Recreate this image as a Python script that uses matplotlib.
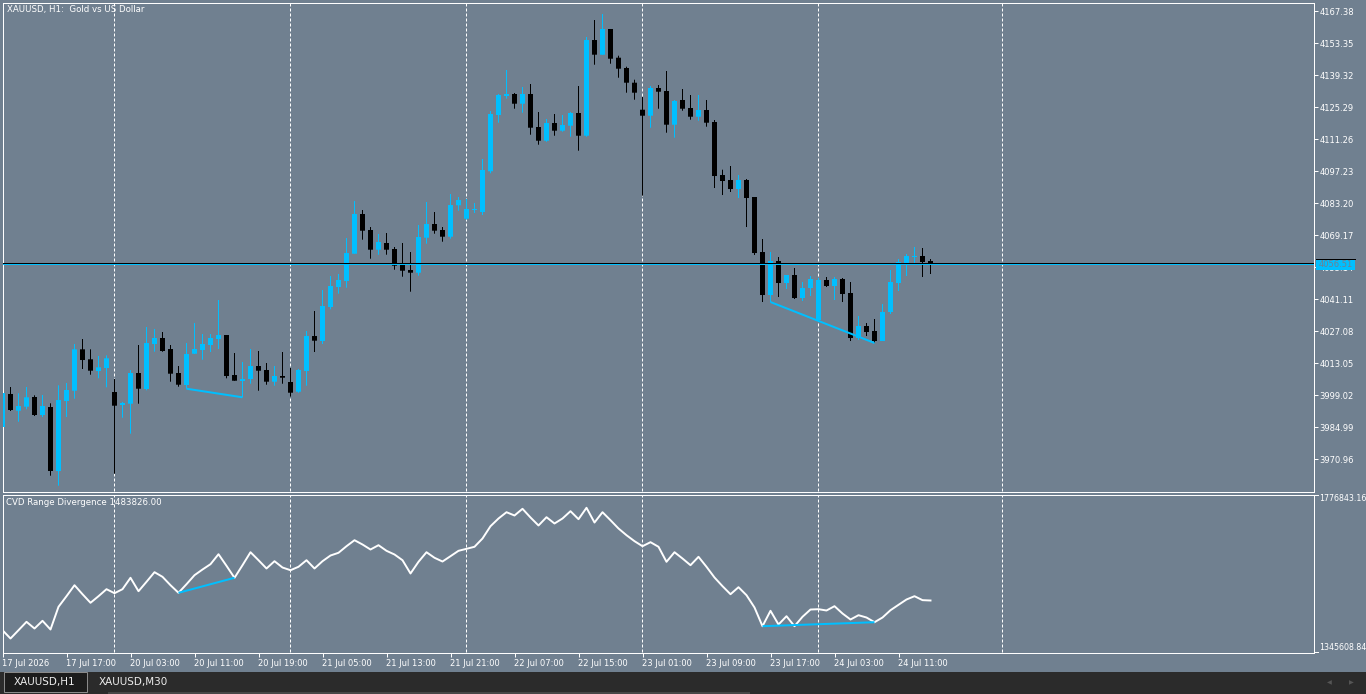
import matplotlib
matplotlib.use('Agg')
import matplotlib.pyplot as plt
from matplotlib.patches import Rectangle
from matplotlib.lines import Line2D
import numpy as np

plt.rcParams['font.family'] = ['DejaVu Sans']

# ---------------- data ----------------
title = 'XAUUSD, H1:  Gold vs US Dollar'
indicator_name = 'CVD Range Divergence'

opens = [3984.99, 3999.46, 3992.13, 3993.89, 3998.14, 3990.25, 3993.75, 3965.70, 3996.39, 4000.90,
         4019.05, 4014.67, 4009.54, 4010.85, 4000.33, 3994.63, 3995.20, 4008.66, 4001.65, 4021.38,
         4024.01, 4019.18, 4008.66, 4003.40, 4017.12, 4018.75, 4020.94, 4023.57, 4025.32, 4007.78,
         4005.15, 4006.03, 4011.73, 4009.98, 4004.85, 4007.35, 4004.72, 4000.46, 4009.54, 4024.88,
         4022.69, 4037.60, 4046.37, 4049.00, 4060.97, 4078.37, 4071.36, 4062.72, 4065.66, 4063.03,
         4056.01, 4053.82, 4052.64, 4067.98, 4073.99, 4071.36, 4068.42, 4082.19, 4076.31, 4080.13,
         4079.25, 4097.10, 4121.78, 4130.11, 4130.99, 4126.73, 4130.99, 4116.52, 4110.51, 4118.27,
         4114.90, 4117.09, 4122.66, 4112.70, 4154.66, 4148.22, 4159.49, 4146.90, 4142.39, 4135.94,
         4124.10, 4121.47, 4133.62, 4132.30, 4117.53, 4128.36, 4124.85, 4121.03, 4123.97, 4118.71,
         4095.47, 4093.28, 4089.33, 4093.28, 4085.83, 4061.71, 4042.86, 4057.77, 4048.12, 4051.63,
         4041.54, 4045.93, 4031.90, 4049.44, 4046.81, 4049.88, 4043.74, 4024.01, 4029.27, 4027.08,
         4022.69, 4035.41, 4048.12, 4056.89, 4059.52, 4059.96, 4057.77]
highs = [4002.09, 4002.52, 3999.76, 4002.52, 3998.88, 3999.02, 3995.38, 4003.27, 4004.28, 4021.38,
         4023.57, 4019.05, 4016.12, 4016.42, 4006.03, 3995.95, 4009.98, 4020.94, 4028.83, 4027.95,
         4026.64, 4020.94, 4011.73, 4021.81, 4030.58, 4025.76, 4025.76, 4040.67, 4025.32, 4017.43,
         4013.48, 4019.18, 4018.31, 4013.05, 4011.73, 4017.87, 4010.85, 4010.42, 4027.08, 4035.85,
         4045.05, 4051.19, 4052.07, 4067.85, 4084.07, 4080.13, 4072.67, 4069.61, 4070.04, 4063.91,
         4065.66, 4061.71, 4073.55, 4083.64, 4079.25, 4072.67, 4087.14, 4085.83, 4084.95, 4083.20,
         4102.49, 4123.53, 4130.99, 4141.51, 4131.42, 4134.06, 4135.37, 4123.09, 4120.03, 4122.22,
         4121.78, 4123.09, 4134.49, 4155.98, 4163.43, 4166.06, 4159.49, 4147.78, 4142.96, 4137.26,
         4129.67, 4134.49, 4134.93, 4141.07, 4128.36, 4133.18, 4130.55, 4130.55, 4128.36, 4119.59,
         4097.80, 4099.42, 4095.47, 4093.72, 4085.83, 4067.41, 4061.71, 4059.52, 4051.63, 4054.70,
         4048.56, 4051.19, 4050.31, 4050.75, 4050.75, 4050.31, 4048.56, 4033.65, 4030.58, 4032.34,
         4038.91, 4053.82, 4058.64, 4060.84, 4063.91, 4063.47, 4058.64]
lows = [3983.67, 3992.00, 3987.31, 3992.75, 3989.81, 3989.37, 3963.63, 3959.25, 3989.37, 3997.39,
        4010.42, 4007.92, 4006.34, 4002.39, 3964.51, 3989.06, 3982.05, 3995.20, 4001.08, 4018.00,
        4018.00, 4004.85, 4002.65, 4001.78, 4016.99, 4014.49, 4017.87, 4019.18, 4006.34, 4005.28,
        3998.01, 4003.97, 4000.90, 4003.53, 4003.09, 4003.97, 3998.27, 4000.02, 4003.09, 4017.87,
        4021.38, 4036.59, 4043.43, 4046.06, 4060.97, 4067.11, 4058.78, 4060.53, 4060.53, 4053.95,
        4050.88, 4044.31, 4051.32, 4065.35, 4069.74, 4066.23, 4067.54, 4079.82, 4075.87, 4078.81,
        4077.94, 4096.22, 4118.40, 4128.93, 4124.54, 4122.79, 4113.14, 4108.76, 4110.07, 4112.70,
        4114.46, 4112.26, 4106.13, 4112.26, 4143.83, 4148.22, 4144.27, 4138.13, 4131.56, 4128.49,
        4086.40, 4116.21, 4124.54, 4114.02, 4111.83, 4123.66, 4119.72, 4119.28, 4116.65, 4089.77,
        4086.70, 4088.02, 4085.39, 4072.67, 4060.40, 4039.79, 4039.79, 4041.98, 4045.49, 4041.11,
        4040.23, 4042.42, 4031.46, 4046.37, 4040.67, 4039.79, 4022.69, 4023.13, 4024.88, 4021.82,
        4022.69, 4034.53, 4044.61, 4051.19, 4056.45, 4050.75, 4052.07]
closes = [3999.89, 3992.44, 3994.19, 3998.01, 3990.25, 3994.19, 3965.70, 3996.82, 4001.21, 4019.05,
          4014.36, 4009.67, 4011.16, 4015.11, 3994.33, 3995.51, 4008.66, 4001.78, 4021.81, 4024.01,
          4018.31, 4008.36, 4003.53, 4016.99, 4019.18, 4021.38, 4024.01, 4025.32, 4007.35, 4005.28,
          4006.03, 4011.73, 4009.67, 4004.85, 4007.35, 4006.60, 4000.02, 4009.98, 4024.88, 4022.83,
          4038.04, 4046.81, 4049.44, 4061.27, 4078.37, 4071.05, 4062.72, 4066.10, 4062.72, 4055.71,
          4053.51, 4052.64, 4068.29, 4073.99, 4071.05, 4068.42, 4082.32, 4084.51, 4080.57, 4080.57,
          4097.67, 4122.22, 4130.55, 4130.99, 4126.73, 4130.99, 4116.21, 4110.51, 4118.27, 4114.90,
          4117.39, 4122.66, 4112.70, 4154.66, 4148.22, 4159.49, 4146.46, 4142.08, 4135.94, 4131.56,
          4121.47, 4133.62, 4131.99, 4117.53, 4127.92, 4124.54, 4121.03, 4123.97, 4118.40, 4095.03,
          4092.84, 4089.33, 4093.28, 4085.39, 4061.27, 4042.86, 4057.77, 4048.12, 4051.63, 4041.54,
          4045.93, 4049.88, 4049.44, 4046.81, 4049.88, 4043.30, 4024.01, 4029.27, 4026.64, 4022.69,
          4035.41, 4048.56, 4057.33, 4059.96, 4059.96, 4057.33, 4056.51]

cvd = [1401700, 1378800, 1401700, 1424900, 1406400, 1427700, 1403700, 1466400, 1495700, 1526100,
       1501200, 1477500, 1495700, 1515100, 1504000, 1515100, 1546600, 1509500, 1535500, 1562100,
       1549300, 1526100, 1505100, 1528900, 1553800, 1569500, 1584200, 1611800, 1579700, 1546600,
       1581400, 1617300, 1595200, 1572300, 1592500, 1575000, 1567600, 1577000, 1595200, 1572300,
       1592500, 1608200, 1615700, 1633900, 1650500, 1638600, 1624800, 1636700, 1621200, 1611000,
       1595200, 1558500, 1590800, 1617300, 1601900, 1591600, 1606300, 1621200, 1626700, 1632300,
       1655200, 1689200, 1710500, 1727900, 1718800, 1737300, 1713300, 1691200, 1714100, 1696700,
       1710500, 1730700, 1708600, 1740100, 1699400, 1727900, 1705800, 1682900, 1664300, 1647800,
       1633900, 1645000, 1632300, 1590800, 1617300, 1599900, 1581400, 1604600, 1577000, 1547400,
       1523400, 1501200, 1520600, 1498500, 1464500, 1412800, 1455400, 1417500, 1440400, 1412800,
       1438800, 1458900, 1459800, 1456200, 1468100, 1447900, 1431300, 1443200, 1436800, 1423800,
       1436800, 1457000, 1471900, 1486600, 1495700, 1484800, 1483826.00]

price_ticks = [4167.38, 4153.35, 4139.32, 4125.29, 4111.26, 4097.23, 4083.20, 4069.17,
               4055.14, 4041.11, 4027.08, 4013.05, 3999.02, 3984.99, 3970.96]
cvd_max = 1776843.16
cvd_min = 1345608.84
last_price = 4056.51

time_label_bars = [0, 8, 16, 24, 32, 40, 48, 56, 64, 72, 80, 88, 96, 104, 112]
time_labels = ['17 Jul 2026', '17 Jul 17:00', '20 Jul 03:00', '20 Jul 11:00', '20 Jul 19:00',
               '21 Jul 05:00', '21 Jul 13:00', '21 Jul 21:00', '22 Jul 07:00', '22 Jul 15:00',
               '23 Jul 01:00', '23 Jul 09:00', '23 Jul 17:00', '24 Jul 03:00', '24 Jul 11:00']
day_start_bars = [14, 36, 58, 80, 102, 125]
price_divergences = [(23, 30), (96, 109)]
cvd_divergences = [(22, 29), (95, 109)]
tabs = ['XAUUSD,H1', 'XAUUSD,M30']

# ---------------- style ----------------
W, H = 1366, 694
BG = '#708090'
BULL = '#00BFFF'
BEAR = '#000000'
PXW = 8.0           # pixels per bar
LW1 = 0.72          # 1 pixel in points
FS = 6

fig = plt.figure(figsize=(W / 100, H / 100), dpi=100, facecolor=BG)


def fb(x0, y0, x1, y1):
    return [x0 / W, 1 - y1 / H, (x1 - x0) / W, (y1 - y0) / H]


def fx(x):
    return x / W


def fy(y):
    return 1 - y / H


ax = fig.add_axes(fb(2.5, 2.5, 1313.5, 491.5))
axi = fig.add_axes(fb(2.5, 494.5, 1313.5, 652.5))

for a in (ax, axi):
    a.set_facecolor(BG)
    for s in a.spines.values():
        s.set_color('white')
        s.set_linewidth(LW1)
    a.set_xlim(0, (1313.5 - 2.5) / PXW)

# price scale: ticks 32 px apart, first tick at y=11
pp = (price_ticks[0] - price_ticks[1]) / 32.0
ax.set_ylim(price_ticks[0] - (491.5 - 11) * pp, price_ticks[0] + (11 - 2.5) * pp)

n = len(opens)
xs = np.arange(n)
o = np.array(opens)
c = np.array(closes)
colors = [BULL if cc >= oo else BEAR for oo, cc in zip(opens, closes)]
wicks = ax.vlines(xs, lows, highs, colors=colors, linewidth=LW1, zorder=3)
wicks.set_snap(False)
bodies = ax.bar(xs, np.maximum(np.abs(c - o), pp), bottom=np.minimum(o, c), width=5 / PXW,
                color=colors, linewidth=0, zorder=4)
for r in bodies:
    r.set_snap(False)

for b in day_start_bars:
    ax.axvline(b, color='white', lw=LW1, dashes=(3, 2), zorder=1, snap=False)
    axi.axvline(b, color='white', lw=LW1, dashes=(3, 2), zorder=1, snap=False)

ax.axhline(last_price + pp, color='black', lw=LW1, zorder=5)
ax.axhline(last_price, color=BULL, lw=LW1, zorder=5)

for a_, b_ in price_divergences:
    ax.plot([a_, b_], [lows[a_], lows[b_]], color=BULL, lw=1.44, zorder=6,
            solid_capstyle='butt')

ax.yaxis.tick_right()
ax.set_yticks(price_ticks)
ax.set_yticklabels([f'{v:.2f}' for v in price_ticks])
ax.tick_params(axis='y', direction='out', length=4 * LW1, width=LW1, colors='white',
               labelsize=FS, pad=1.5)
ax.tick_params(axis='x', bottom=False, labelbottom=False)

# indicator
span = (cvd_max - cvd_min) / (650.5 - 494.5)
axi.set_ylim(cvd_min - 2 * span, cvd_max)
axi.plot(xs, cvd, color='white', lw=1.4, zorder=3)
for a_, b_ in cvd_divergences:
    axi.plot([a_, b_], [cvd[a_], cvd[b_]], color=BULL, lw=1.44, zorder=4,
             solid_capstyle='butt')
axi.set_yticks([])
axi.set_xticks(time_label_bars)
axi.set_xticklabels(time_labels, ha='left')
axi.tick_params(axis='x', direction='out', length=4 * LW1, width=LW1, colors='white',
                labelsize=FS, pad=2)

# indicator scale labels
for yy in (494.5, 652):
    fig.lines.append(Line2D([fx(1313.5), fx(1317.5)], [fy(yy), fy(yy)],
                            transform=fig.transFigure, color='white', lw=LW1))
fig.text(fx(1319), fy(498.5), f'{cvd_max:.2f}', color='white', fontsize=5.7,
         ha='left', va='center')
fig.text(fx(1319), fy(647), f'{cvd_min:.2f}', color='white', fontsize=5.7,
         ha='left', va='center')

# titles
fig.text(fx(7), fy(9.5), title, color='white', fontsize=6.2, ha='left', va='center')
fig.text(fx(6), fy(502.7), f'{indicator_name} {cvd[-1]:.2f}', color='white',
         fontsize=6.2, ha='left', va='center')

# current price label
fig.patches.append(Rectangle((fx(1316), fy(269.5)), 39 / W, 10 / H, transform=fig.transFigure,
                             facecolor=BULL, edgecolor='none', zorder=10))
fig.lines.append(Line2D([fx(1316), fx(1355)], [fy(258.5), fy(258.5)],
                        transform=fig.transFigure, color='black', lw=LW1, zorder=11))
fig.text(fx(1335.5), fy(264.5), f'{last_price:.2f}', color=BG, fontsize=FS,
         ha='center', va='center', zorder=12)

# bottom tab bar
fig.patches.append(Rectangle((0, 0), 1, 22 / H, transform=fig.transFigure,
                             facecolor='#2b2b2b', edgecolor='none', zorder=8))
fig.patches.append(Rectangle((fx(4), fy(691.7)), 83.3 / W, 19.4 / H, transform=fig.transFigure,
                             facecolor='#1c1c1c', edgecolor='#8a8a8a', lw=LW1, zorder=9))
fig.patches.append(Rectangle((fx(108), fy(694)), 642 / W, 2 / H, transform=fig.transFigure,
                             facecolor='#474747', edgecolor='none', zorder=9))
fig.text(fx(14), fy(682.5), tabs[0], color='#ececec', fontsize=7.5, ha='left', va='center',
         zorder=10)
fig.text(fx(99), fy(682.5), tabs[1], color='#ececec', fontsize=7.5, ha='left', va='center',
         zorder=10)
fig.text(fx(1329), fy(683), '\u25c0', color='#555555', fontsize=4.5, ha='center', va='center',
         zorder=10)
fig.text(fx(1351), fy(683), '\u25b6', color='#555555', fontsize=4.5, ha='center', va='center',
         zorder=10)

fig.savefig('out.png', dpi=100, facecolor=BG)
